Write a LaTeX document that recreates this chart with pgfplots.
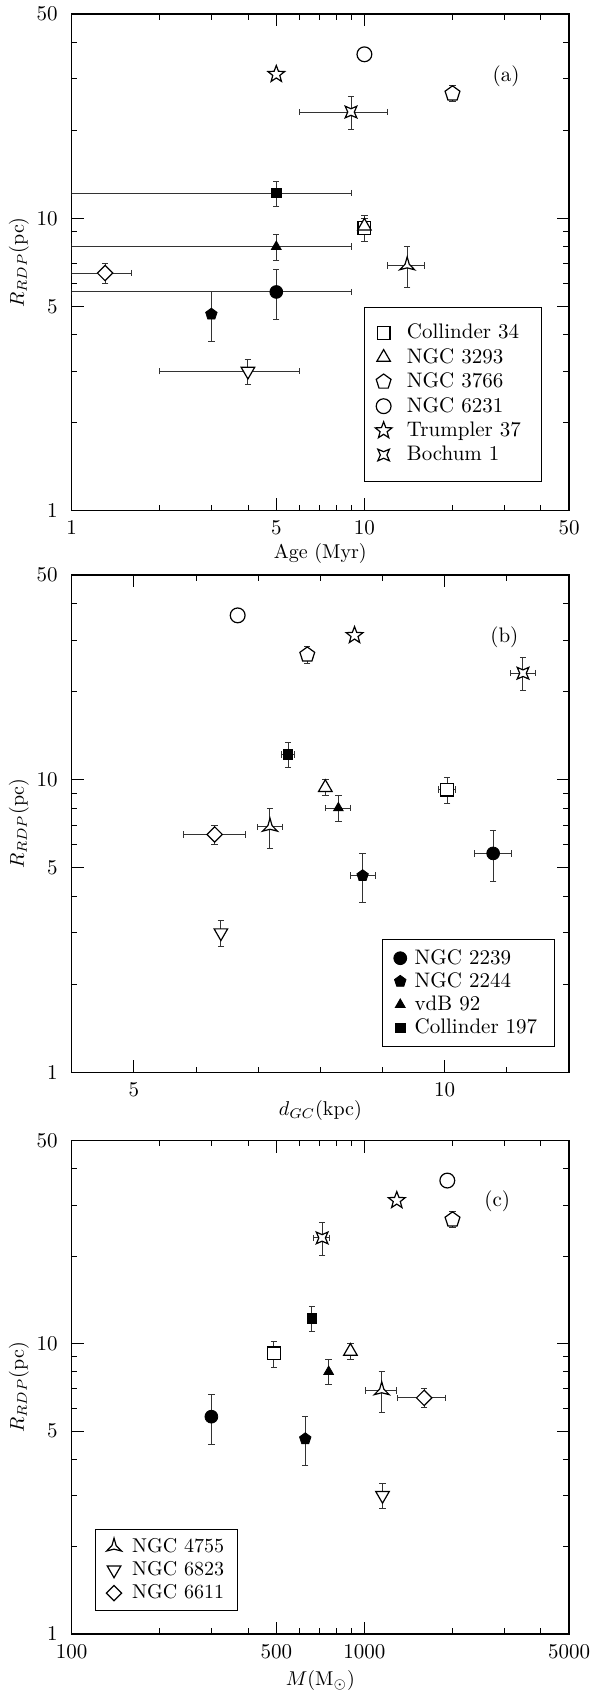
\documentclass[border=0pt]{standalone}
\usepackage{pgfplots}
\pgfplotsset{compat=1.18}
\usetikzlibrary{plotmarks}

\pgfdeclareplotmark{ostar}{%
\pgfpathmoveto{\pgfpointpolar{90}{\pgfplotmarksize}}%
\pgfpathlineto{\pgfpointpolar{126}{0.42*\pgfplotmarksize}}%
\pgfpathlineto{\pgfpointpolar{162}{\pgfplotmarksize}}%
\pgfpathlineto{\pgfpointpolar{198}{0.42*\pgfplotmarksize}}%
\pgfpathlineto{\pgfpointpolar{234}{\pgfplotmarksize}}%
\pgfpathlineto{\pgfpointpolar{270}{0.42*\pgfplotmarksize}}%
\pgfpathlineto{\pgfpointpolar{306}{\pgfplotmarksize}}%
\pgfpathlineto{\pgfpointpolar{342}{0.42*\pgfplotmarksize}}%
\pgfpathlineto{\pgfpointpolar{18}{\pgfplotmarksize}}%
\pgfpathlineto{\pgfpointpolar{54}{0.42*\pgfplotmarksize}}%
\pgfpathclose\pgfusepathqfillstroke}

\pgfdeclareplotmark{star4}{%
\pgfpathmoveto{\pgfpointpolar{45}{\pgfplotmarksize}}%
\pgfpathlineto{\pgfpointpolar{90}{0.4*\pgfplotmarksize}}%
\pgfpathlineto{\pgfpointpolar{135}{\pgfplotmarksize}}%
\pgfpathlineto{\pgfpointpolar{180}{0.4*\pgfplotmarksize}}%
\pgfpathlineto{\pgfpointpolar{225}{\pgfplotmarksize}}%
\pgfpathlineto{\pgfpointpolar{270}{0.4*\pgfplotmarksize}}%
\pgfpathlineto{\pgfpointpolar{315}{\pgfplotmarksize}}%
\pgfpathlineto{\pgfpointpolar{0}{0.4*\pgfplotmarksize}}%
\pgfpathclose\pgfusepathqfillstroke}

\pgfdeclareplotmark{star3}{%
\pgfpathmoveto{\pgfpointpolar{90}{\pgfplotmarksize}}%
\pgfpathlineto{\pgfpointpolar{150}{0.28*\pgfplotmarksize}}%
\pgfpathlineto{\pgfpointpolar{210}{\pgfplotmarksize}}%
\pgfpathlineto{\pgfpointpolar{270}{0.28*\pgfplotmarksize}}%
\pgfpathlineto{\pgfpointpolar{330}{\pgfplotmarksize}}%
\pgfpathlineto{\pgfpointpolar{30}{0.28*\pgfplotmarksize}}%
\pgfpathclose\pgfusepathqfillstroke}

\pgfplotsset{
  limg/.style={legend image code/.code={\path[draw=none,fill=none] (-4pt,-4pt) rectangle (4pt,4pt); \draw[##1] plot coordinates {(0pt,0pt)};}},
  ebY/.style={/pgfplots/error bars/y dir=both, /pgfplots/error bars/y explicit},
  ebXY/.style={/pgfplots/error bars/x dir=both, /pgfplots/error bars/x explicit,
               /pgfplots/error bars/y dir=both, /pgfplots/error bars/y explicit},
  sC34/.style={only marks, limg, mark=square*, mark size=3.2pt, mark options={fill=white, draw=black, line width=0.6pt}},
  sN3293/.style={only marks, limg, mark=triangle*, mark size=3.9pt, mark options={fill=white, draw=black, line width=0.6pt}},
  sN3766/.style={only marks, limg, mark=pentagon*, mark size=3.9pt, mark options={fill=white, draw=black, line width=0.6pt}},
  sN6231/.style={only marks, limg, mark=*, mark size=3.7pt, mark options={fill=white, draw=black, line width=0.6pt}},
  sTr37/.style={only marks, limg, mark=ostar, mark size=4.4pt, mark options={fill=white, draw=black, line width=0.6pt}},
  sBo1/.style={only marks, limg, mark=star4, mark size=4.1pt, mark options={fill=white, draw=black, line width=0.6pt}},
  sN2239/.style={only marks, limg, mark=*, mark size=3.2pt, mark options={fill=black, draw=black}},
  sN2244/.style={only marks, limg, mark=pentagon*, mark size=3pt, mark options={fill=black, draw=black}},
  svdB92/.style={only marks, limg, mark=triangle*, mark size=2.8pt, mark options={fill=black, draw=black}},
  sCr197/.style={only marks, limg, mark=square*, mark size=2.4pt, mark options={fill=black, draw=black}},
  sN4755/.style={only marks, limg, mark=star3, mark size=4.3pt, mark options={fill=white, draw=black, line width=0.6pt}},
  sN6823/.style={only marks, limg, mark=triangle*, mark size=3.9pt, mark options={rotate=180, fill=white, draw=black, line width=0.6pt}},
  sN6611/.style={only marks, limg, mark=square*, mark size=2.7pt, mark options={rotate=45, fill=white, draw=black, line width=0.6pt}},
  error bars/error bar style={line width=0.5pt, black!80},
  error bars/error mark options={rotate=90, mark size=1.6pt, line width=0.5pt, black!80},
}

\begin{document}
\begin{tikzpicture}
\path[use as bounding box] (0pt,0pt) rectangle (297pt,846pt);

% ---------------- (a) Age ----------------
\begin{axis}[at={(35.85pt,590.65pt)}, anchor=south west,
  scale only axis, width=248.65pt, height=248.35pt,
  ymode=log, ymin=1, ymax=50,
  ytick={1,5,10,50}, yticklabels={1,5,10,50},
  minor ytick={2,3,4,6,7,8,9,20,30,40},
  major tick length=6.2pt, minor tick length=2.8pt,
  axis line style={line width=0.7pt},
  tick style={line width=0.4pt, black},
  tick label style={font=\fontsize{10.5}{12}\selectfont},
  label style={font=\fontsize{10}{12}\selectfont},
  ylabel={$R_{RDP}$(pc)},
  ylabel style={at={(axis description cs:-0.106,0.5)}, anchor=center},
  xticklabel style={yshift=-1.5pt},
  yticklabel style={xshift=-3.5pt},
  legend cell align=left,
  legend style={draw=black, line width=0.45pt, fill=white,
    font=\fontsize{10.5}{12}\selectfont,
    at={(axis description cs:0.588,0.411)}, anchor=north west,
    inner xsep=5.35pt, inner ysep=8.5pt, row sep=3.2pt, column sep=6.5pt,
    nodes={inner xsep=1pt, inner ysep=0pt, text height=7.5pt, text depth=1.5pt, text width=61pt}},
  xmode=log, xmin=1, xmax=50,
  xtick={1,5,10,50}, xticklabels={1,5,10,50},
  minor xtick={2,3,4,6,7,8,9,20,30,40},
  xlabel={Age (Myr)},
  xlabel style={at={(axis description cs:0.5,-0.086)}, anchor=center}]
\addplot[sC34, ebY] coordinates {(10,9.25) +- (0,0.95)};
\addlegendentry{Collinder 34}
\addplot[sN3293, ebY] coordinates {(10,9.4) +- (0,0.6)};
\addlegendentry{NGC 3293}
\addplot[sN3766, ebY] coordinates {(20,26.7) +- (0,1.7)};
\addlegendentry{NGC 3766}
\addplot[sN6231] coordinates {(10,36.4)};
\addlegendentry{NGC 6231}
\addplot[sTr37] coordinates {(5,31.1)};
\addlegendentry{Trumpler 37}
\addplot[sBo1, ebXY] coordinates {(9,23.1) +- (3,3.0)};
\addlegendentry{Bochum 1}
\addplot[forget plot, sN2239, ebXY] coordinates {(5,5.6) +- (4,1.1)};
\addplot[forget plot, sN2244, ebY] coordinates {(3,4.7) +- (0,0.9)};
\addplot[forget plot, svdB92, ebXY] coordinates {(5,8.0) +- (4,0.8)};
\addplot[forget plot, sCr197, ebXY] coordinates {(5,12.2) +- (4,1.2)};
\addplot[forget plot, sN4755, ebXY] coordinates {(14,6.9) +- (2,1.1)};
\addplot[forget plot, sN6823, ebXY] coordinates {(4,3.0) +- (2,0.3)};
\addplot[forget plot, sN6611, ebXY] coordinates {(1.3,6.5) +- (0.3,0.5)};
\node[font=\fontsize{10.5}{12}\selectfont] at (axis cs:30.5,30.6) {(a)};
\end{axis}

% ---------------- (b) d_GC ----------------
\begin{axis}[at={(35.85pt,309.75pt)}, anchor=south west,
  scale only axis, width=248.65pt, height=248.75pt,
  ymode=log, ymin=1, ymax=50,
  ytick={1,5,10,50}, yticklabels={1,5,10,50},
  minor ytick={2,3,4,6,7,8,9,20,30,40},
  major tick length=6.2pt, minor tick length=2.8pt,
  axis line style={line width=0.7pt},
  tick style={line width=0.4pt, black},
  tick label style={font=\fontsize{10.5}{12}\selectfont},
  label style={font=\fontsize{10}{12}\selectfont},
  ylabel={$R_{RDP}$(pc)},
  ylabel style={at={(axis description cs:-0.106,0.5)}, anchor=center},
  xticklabel style={yshift=-1.5pt},
  yticklabel style={xshift=-3.5pt},
  legend cell align=left,
  legend style={draw=black, line width=0.45pt, fill=white,
    font=\fontsize{10.5}{12}\selectfont,
    at={(axis description cs:0.624,0.268)}, anchor=north west,
    inner xsep=4.9pt, inner ysep=4.8pt, row sep=2.6pt, column sep=2.2pt,
    nodes={inner xsep=1pt, inner ysep=0pt, text height=7.5pt, text depth=1.5pt, text width=63.8pt}},
  xmin=4, xmax=12,
  xtick={5,10}, xticklabels={5,10},
  minor xtick={6,7,8,9,11},
  xlabel={$d_{GC}$(kpc)},
  xlabel style={at={(axis description cs:0.5,-0.077)}, anchor=center}]
\addplot[sN2239, ebXY] coordinates {(10.78,5.6) +- (0.3,1.1)};
\addlegendentry{NGC 2239}
\addplot[sN2244, ebXY] coordinates {(8.68,4.7) +- (0.2,0.9)};
\addlegendentry{NGC 2244}
\addplot[svdB92, ebXY] coordinates {(8.29,8.0) +- (0.2,0.8)};
\addlegendentry{vdB 92}
\addplot[sCr197, ebXY] coordinates {(7.48,12.2) +- (0.1,1.2)};
\addlegendentry{Collinder 197}
\addplot[forget plot, sC34, ebXY] coordinates {(10.04,9.25) +- (0.14,0.95)};
\addplot[forget plot, sN3293, ebY] coordinates {(8.08,9.4) +- (0,0.6)};
\addplot[forget plot, sN3766, ebY] coordinates {(7.79,26.7) +- (0,1.7)};
\addplot[forget plot, sN6231] coordinates {(6.67,36.4)};
\addplot[forget plot, sTr37] coordinates {(8.55,31.1)};
\addplot[forget plot, sBo1, ebXY] coordinates {(11.26,23.1) +- (0.2,3.0)};
\addplot[forget plot, sN4755, ebXY] coordinates {(7.19,6.9) +- (0.2,1.1)};
\addplot[forget plot, sN6823, ebY] coordinates {(6.40,3.0) +- (0,0.3)};
\addplot[forget plot, sN6611, ebXY] coordinates {(6.30,6.5) +- (0.5,0.5)};
\node[font=\fontsize{10.5}{12}\selectfont] at (axis cs:10.96,30.6) {(b)};
\end{axis}

% ---------------- (c) Mass ----------------
\begin{axis}[at={(35.85pt,29pt)}, anchor=south west,
  scale only axis, width=248.65pt, height=246.75pt,
  ymode=log, ymin=1, ymax=50,
  ytick={1,5,10,50}, yticklabels={1,5,10,50},
  minor ytick={2,3,4,6,7,8,9,20,30,40},
  major tick length=6.2pt, minor tick length=2.8pt,
  axis line style={line width=0.7pt},
  tick style={line width=0.4pt, black},
  tick label style={font=\fontsize{10.5}{12}\selectfont},
  label style={font=\fontsize{10}{12}\selectfont},
  ylabel={$R_{RDP}$(pc)},
  ylabel style={at={(axis description cs:-0.106,0.5)}, anchor=center},
  xticklabel style={yshift=-1.5pt},
  yticklabel style={xshift=-3.5pt},
  legend cell align=left,
  legend style={draw=black, line width=0.45pt, fill=white,
    font=\fontsize{10}{12}\selectfont,
    at={(axis description cs:0.046,0.213)}, anchor=north west,
    inner xsep=5.5pt, inner ysep=4.2pt, row sep=2.6pt, column sep=4.1pt,
    nodes={inner xsep=1pt, inner ysep=0pt, text height=7.3pt, text depth=1.7pt}},
  xmode=log, xmin=100, xmax=5000,
  xtick={100,500,1000,5000}, xticklabels={100,500,1000,5000},
  minor xtick={200,300,400,600,700,800,900,2000,3000,4000},
  xlabel={$M$(M$_\odot$)},
  xlabel style={at={(axis description cs:0.5,-0.095)}, anchor=center}]
\addplot[sN4755, ebXY] coordinates {(1146,6.9) +- (140,1.1)};
\addlegendentry{NGC 4755}
\addplot[sN6823, ebXY] coordinates {(1153,3.0) +- (20,0.3)};
\addlegendentry{NGC 6823}
\addplot[sN6611, ebXY] coordinates {(1600,6.5) +- (300,0.5)};
\addlegendentry{NGC 6611}
\addplot[forget plot, sC34, ebXY] coordinates {(490,9.25) +- (15,0.95)};
\addplot[forget plot, sN3293, ebY] coordinates {(896,9.4) +- (0,0.6)};
\addplot[forget plot, sN3766, ebY] coordinates {(2000,26.7) +- (0,1.7)};
\addplot[forget plot, sN6231] coordinates {(1920,36.4)};
\addplot[forget plot, sTr37] coordinates {(1290,31.1)};
\addplot[forget plot, sBo1, ebXY] coordinates {(717,23.1) +- (45,3.0)};
\addplot[forget plot, sN2239, ebY] coordinates {(300,5.6) +- (0,1.1)};
\addplot[forget plot, sN2244, ebY] coordinates {(628,4.7) +- (0,0.9)};
\addplot[forget plot, svdB92, ebY] coordinates {(755,8.0) +- (0,0.8)};
\addplot[forget plot, sCr197, ebY] coordinates {(662,12.2) +- (0,1.2)};
\node[font=\fontsize{10.5}{12}\selectfont] at (axis cs:2845,30.9) {(c)};
\end{axis}
\end{tikzpicture}
\end{document}
